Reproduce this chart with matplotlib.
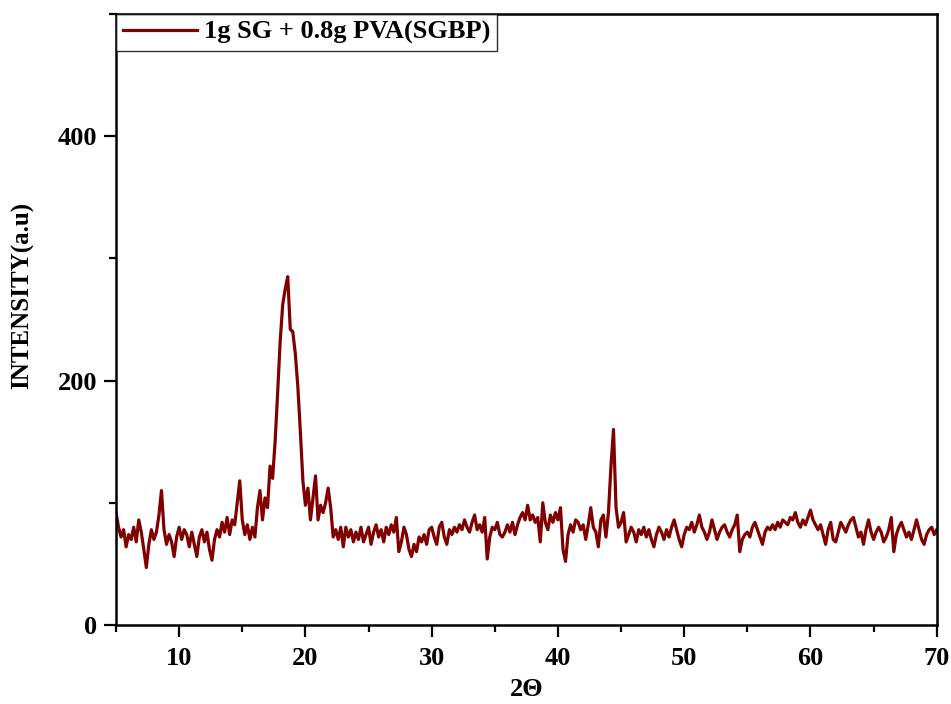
import numpy as np
import matplotlib
matplotlib.use("Agg")
import matplotlib.pyplot as plt
from matplotlib.ticker import MultipleLocator

plt.rcParams["font.family"] = ["Liberation Serif", "DejaVu Serif"]
plt.rcParams["font.weight"] = "bold"

# Diffraction angle grid (degrees 2-theta)
two_theta_start = 5.0
two_theta_step = 0.2

# Measured intensity (a.u.), one value per 0.2 degree from 5 to 70
intensity = [
    92, 80, 72, 78, 64, 74, 70, 80, 68, 86,      # 5.0 - 6.8
    76, 62, 47, 66, 78, 70, 76, 90, 110, 78,     # 7.0 - 8.8
    66, 74, 68, 56, 72, 80, 70, 78, 74, 64,      # 9.0 - 10.8
    76, 66, 56, 72, 78, 68, 76, 62, 53, 70,      # 11.0 - 12.8
    78, 72, 84, 76, 88, 74, 86, 82, 100, 118,    # 13.0 - 14.8
    86, 74, 82, 70, 80, 72, 96, 110, 86, 104,    # 15.0 - 16.8
    96, 130, 120, 150, 190, 232, 262, 275, 285, 242,  # 17.0 - 18.8
    240, 222, 195, 158, 118, 98, 112, 86, 104, 122,   # 19.0 - 20.8
    86, 98, 92, 100, 112, 96, 72, 78, 70, 80,    # 21.0 - 22.8
    64, 80, 72, 78, 68, 76, 70, 80, 68, 74,      # 23.0 - 24.8
    80, 66, 76, 82, 72, 78, 68, 80, 74, 82,      # 25.0 - 26.8
    76, 88, 60, 68, 80, 74, 62, 56, 66, 60,      # 27.0 - 28.8
    72, 68, 74, 66, 78, 80, 72, 66, 80, 84,      # 29.0 - 30.8
    72, 66, 78, 74, 80, 76, 82, 78, 86, 80,      # 31.0 - 32.8
    76, 84, 90, 78, 82, 76, 88, 54, 72, 80,      # 33.0 - 34.8
    78, 84, 74, 72, 76, 82, 76, 84, 74, 82,      # 35.0 - 36.8
    88, 92, 86, 98, 86, 90, 84, 88, 68, 100,     # 37.0 - 38.8
    84, 78, 90, 84, 92, 86, 96, 62, 52, 74,      # 39.0 - 40.8
    82, 76, 86, 84, 78, 82, 70, 82, 96, 80,      # 41.0 - 42.8
    76, 64, 86, 90, 72, 92, 130, 160, 96, 80,    # 43.0 - 44.8
    84, 92, 68, 74, 80, 76, 68, 78, 74, 80,      # 45.0 - 46.8
    72, 78, 70, 64, 74, 80, 76, 70, 78, 72,      # 47.0 - 48.8
    80, 86, 78, 70, 64, 74, 80, 78, 84, 76,      # 49.0 - 50.8
    82, 90, 80, 76, 70, 76, 86, 78, 70, 76,      # 51.0 - 52.8
    80, 82, 76, 72, 78, 82, 90, 60, 70, 74,      # 53.0 - 54.8
    76, 72, 80, 84, 78, 72, 66, 76, 80, 78,      # 55.0 - 56.8
    82, 78, 84, 80, 86, 84, 82, 88, 86, 92,      # 57.0 - 58.8
    84, 80, 86, 82, 88, 94, 86, 82, 78, 82,      # 59.0 - 60.8
    74, 66, 78, 84, 70, 68, 76, 84, 80, 76,      # 61.0 - 62.8
    82, 86, 88, 80, 72, 76, 66, 78, 86, 76,      # 63.0 - 64.8
    70, 76, 80, 76, 68, 72, 78, 88, 60, 74,      # 65.0 - 66.8
    80, 84, 78, 72, 76, 70, 78, 86, 78, 70,      # 67.0 - 68.8
    66, 74, 78, 80, 74, 78,                      # 69.0 - 70.0
]
two_theta = two_theta_start + two_theta_step * np.arange(len(intensity))

series_label = "1g SG + 0.8g PVA(SGBP)"
x_ticks = [10, 20, 30, 40, 50, 60, 70]
y_ticks = [0, 200, 400]

fig = plt.figure(figsize=(9.51, 7.04), dpi=100)
ax = fig.add_axes([0.122, 0.1122, 0.863, 0.868])

ax.plot(two_theta, intensity, color="#800000", linewidth=2.3, label=series_label)

ax.set_xlim(5, 70)
ax.set_ylim(0, 500)
ax.set_xticks(x_ticks)
ax.set_yticks(y_ticks)
ax.xaxis.set_minor_locator(MultipleLocator(5))
ax.yaxis.set_minor_locator(MultipleLocator(100))

for side in ["left", "bottom", "top", "right"]:
    ax.spines[side].set_linewidth(1.8)

ax.tick_params(axis="both", which="major", direction="out", length=8.5,
               width=1.6, labelsize=19)
ax.tick_params(axis="x", which="major", pad=7)
ax.tick_params(axis="y", which="major", pad=5)
ax.tick_params(axis="both", which="minor", direction="out", length=5,
               width=1.6)
ax.tick_params(top=False, right=False, which="both")
for lbl in ax.get_xticklabels() + ax.get_yticklabels():
    lbl.set_fontweight("bold")

ax.set_xlabel("2\u0398", fontsize=19, fontweight="bold", labelpad=6)
ax.set_ylabel("INTENSITY(a.u)", fontsize=18, fontweight="bold")
ax.yaxis.set_label_coords(-0.1, 0.54)

leg = ax.legend(loc="upper left", borderaxespad=0, frameon=True, fancybox=False,
                prop={"size": 19, "weight": "bold"}, handlelength=2.8,
                handletextpad=0.3, borderpad=0.25)
leg.get_frame().set_edgecolor("black")
leg.get_frame().set_linewidth(1.0)

fig.savefig("out.png", dpi=100, facecolor="white")
